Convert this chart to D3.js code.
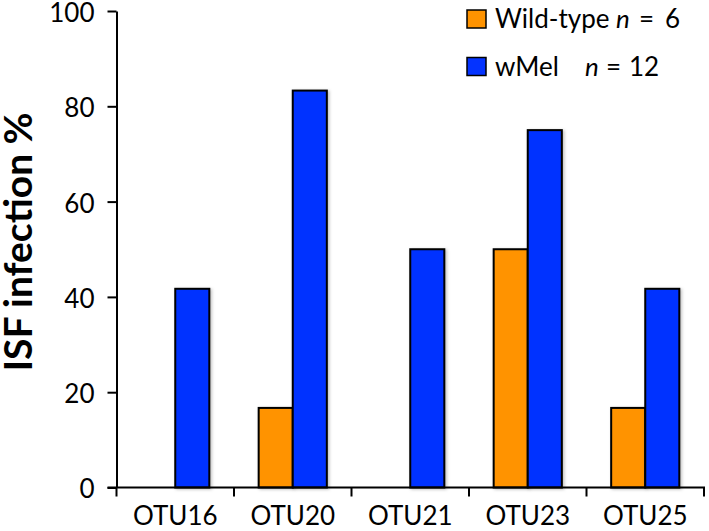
<!DOCTYPE html>
<html><head><meta charset="utf-8">
<script src="https://cdn.jsdelivr.net/npm/d3@7"></script>
<style>
html,body{margin:0;padding:0;background:#fff;}
svg{display:block;}
text{font-family:Lato,"Open Sans",sans-serif;}
</style></head>
<body>
<svg id="chart" width="709" height="531"></svg>
<script>
const categories = ["OTU16","OTU20","OTU21","OTU23","OTU25"];
const seriesNames = ["Wild-type","wMel"];
const wildType = [0, 16.7, 0, 50, 16.7];
const wMel = [41.7, 83.3, 50, 75, 41.7];
const yTicks = [0,20,40,60,80,100];
const colors = ["#FF9300","#0433FF"];
const legendN = ["6","12"];

const svg = d3.select("#chart");
const defs = svg.append("defs");
const f = defs.append("filter").attr("id","shadow").attr("x","-30%").attr("y","-10%").attr("width","160%").attr("height","120%");
f.append("feDropShadow").attr("dx",1.5).attr("dy",1).attr("stdDeviation",1.8).attr("flood-color","#000").attr("flood-opacity",0.25);

const axX = 116.5, axY = 487.5;
const y = d3.scaleLinear().domain([0,100]).range([axY,11]);
const x0 = d3.scaleBand().domain(categories).range([axX,704]).paddingInner(0.42).paddingOuter(0.21);
const x1 = d3.scaleBand().domain(seriesNames).range([0,x0.bandwidth()]);

const data = categories.map((c,i)=>({cat:c, vals:[wildType[i], wMel[i]]}));

// bars
const g = svg.append("g");
data.forEach(d=>{
  d.vals.forEach((v,j)=>{
    if(v<=0) return;
    g.append("rect")
      .attr("x", x0(d.cat)+x1(seriesNames[j]))
      .attr("y", y(v))
      .attr("width", x1.bandwidth())
      .attr("height", y(0)-y(v))
      .attr("fill", colors[j])
      .attr("stroke","#000")
      .attr("stroke-width",2)
      .attr("filter","url(#shadow)");
  });
});

// y axis
const yAxis = svg.append("g").attr("transform",`translate(${axX},0)`)
  .call(d3.axisLeft(y).tickValues(yTicks).tickSize(9).tickSizeOuter(0).tickPadding(13));
yAxis.select(".domain").attr("stroke","#000").attr("stroke-width",2);
yAxis.selectAll(".tick line").attr("stroke","#000").attr("stroke-width",2);
yAxis.selectAll(".tick text").attr("font-family","Lato,sans-serif").attr("font-size",26).attr("fill","#000").attr("dy","0.4em");

// x axis
const xg = svg.append("g").attr("transform",`translate(0,${axY})`);
xg.append("line").attr("x1",axX-9).attr("x2",x0.range()[1]+1).attr("y1",0).attr("y2",0).attr("stroke","#000").attr("stroke-width",2);
const edges = categories.map(c=>x0(c)-x0.step()*x0.paddingInner()/2).concat([x0.range()[1]]);
xg.selectAll("line.xt").data(edges).enter().append("line").attr("class","xt")
  .attr("x1",d=>d).attr("x2",d=>d).attr("y1",0).attr("y2",9).attr("stroke","#000").attr("stroke-width",2);
const xAxis = svg.append("g").attr("transform",`translate(0,${axY})`)
  .call(d3.axisBottom(x0).tickSize(0).tickPadding(19));
xAxis.select(".domain").remove();
xAxis.selectAll(".tick text").attr("font-family","Lato,sans-serif").attr("font-size",26).attr("fill","#000");

// y title
svg.append("text").attr("transform","translate(32,242) rotate(-90)")
  .attr("text-anchor","middle").attr("font-weight","bold").attr("font-size",39)
  .attr("fill","#000").text("ISF infection %");

// legend
const leg = svg.append("g");
const nX = [616, 585], eqX = [639, 606], vX = [665, 629];
seriesNames.forEach((s,i)=>{
  const yy = 10 + i*47.5;
  leg.append("rect").attr("x",467).attr("y",yy).attr("width",19).attr("height",18)
    .attr("fill",colors[i]).attr("stroke","#000").attr("stroke-width",1.5);
  const t = leg.append("text").attr("x",495).attr("y",yy+18).attr("font-size",26).attr("fill","#000");
  t.append("tspan").text(s);
  t.append("tspan").attr("x", nX[i]).attr("font-style","italic").text("n");
  t.append("tspan").attr("x", eqX[i]).text("=");
  t.append("tspan").attr("x", vX[i]).text(legendN[i]);
});
</script>
</body></html>
